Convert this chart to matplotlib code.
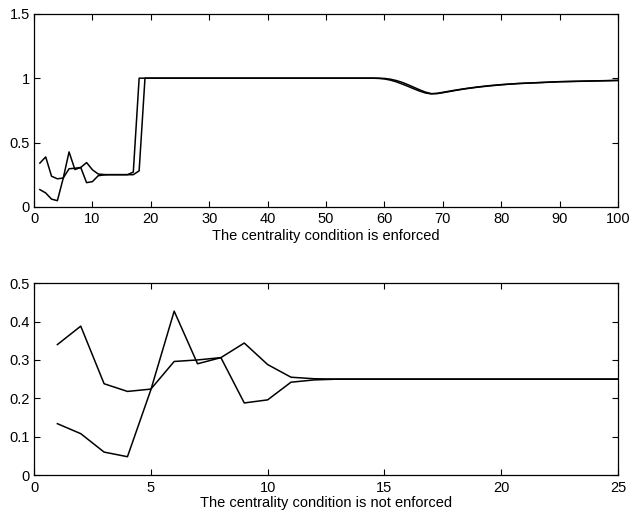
import numpy as np
import matplotlib.pyplot as plt

plt.rcParams['font.family'] = ['Liberation Sans', 'DejaVu Sans']

# top panel: iterations 1..100
x_top = np.arange(1, 101)
top_a = [0.340, 0.388, 0.238, 0.218, 0.224, 0.296, 0.300, 0.306, 0.188, 0.196,
         0.242, 0.248, 0.250, 0.250, 0.250, 0.250, 0.270, 1.000, 1.000, 1.000,
         1.000, 1.000, 1.000, 1.000, 1.000, 1.000, 1.000, 1.000, 1.000, 1.000,
         1.000, 1.000, 1.000, 1.000, 1.000, 1.000, 1.000, 1.000, 1.000, 1.000,
         1.000, 1.000, 1.000, 1.000, 1.000, 1.000, 1.000, 1.000, 1.000, 1.000,
         1.000, 1.000, 1.000, 1.000, 1.000, 1.000, 1.000, 1.000, 0.998, 0.994,
         0.985, 0.972, 0.955, 0.937, 0.918, 0.900, 0.885, 0.878, 0.882, 0.890,
         0.898, 0.906, 0.913, 0.920, 0.926, 0.932, 0.937, 0.942, 0.946, 0.950,
         0.953, 0.956, 0.959, 0.961, 0.963, 0.965, 0.967, 0.969, 0.971, 0.973,
         0.974, 0.975, 0.976, 0.977, 0.978, 0.979, 0.980, 0.981, 0.982, 0.983]
top_b = [0.134, 0.108, 0.060, 0.048, 0.222, 0.427, 0.290, 0.306, 0.344, 0.288,
         0.255, 0.251, 0.250, 0.250, 0.250, 0.250, 0.250, 0.280, 1.000, 1.000,
         1.000, 1.000, 1.000, 1.000, 1.000, 1.000, 1.000, 1.000, 1.000, 1.000,
         1.000, 1.000, 1.000, 1.000, 1.000, 1.000, 1.000, 1.000, 1.000, 1.000,
         1.000, 1.000, 1.000, 1.000, 1.000, 1.000, 1.000, 1.000, 1.000, 1.000,
         1.000, 1.000, 1.000, 1.000, 1.000, 1.000, 1.000, 1.000, 1.000, 0.998,
         0.992, 0.982, 0.968, 0.950, 0.930, 0.910, 0.892, 0.880, 0.880, 0.887,
         0.895, 0.903, 0.911, 0.918, 0.924, 0.930, 0.935, 0.940, 0.944, 0.948,
         0.952, 0.955, 0.958, 0.960, 0.962, 0.964, 0.966, 0.968, 0.970, 0.972,
         0.973, 0.974, 0.975, 0.976, 0.977, 0.978, 0.979, 0.980, 0.981, 0.982]

# bottom panel: iterations 1..25
x_bot = np.arange(1, 26)
bot_a = [0.340, 0.388, 0.238, 0.218, 0.224, 0.296, 0.300, 0.306, 0.188, 0.196,
         0.242, 0.248, 0.250, 0.250, 0.250, 0.250, 0.250, 0.250, 0.250, 0.250,
         0.250, 0.250, 0.250, 0.250, 0.250]
bot_b = [0.134, 0.108, 0.060, 0.048, 0.222, 0.427, 0.290, 0.306, 0.344, 0.288,
         0.255, 0.251, 0.250, 0.250, 0.250, 0.250, 0.250, 0.250, 0.250, 0.250,
         0.250, 0.250, 0.250, 0.250, 0.250]

fig = plt.figure(figsize=(6.3, 5.12), dpi=100)
ax1 = fig.add_axes([0.054, 0.596, 0.927, 0.377])
ax2 = fig.add_axes([0.054, 0.072, 0.927, 0.375])

ax1.plot(x_top, top_a, c='k', lw=1.1)
ax1.plot(x_top, top_b, c='k', lw=1.1)
ax1.set_xlim(0, 100)
ax1.set_ylim(0, 1.5)
ax1.set_xticks(np.arange(0, 101, 10))
ax1.set_yticks([0, 0.5, 1, 1.5])
ax1.set_yticklabels(['0', '0.5', '1', '1.5'])
ax1.set_xlabel('The centrality condition is enforced', labelpad=2)

ax2.plot(x_bot, bot_a, c='k', lw=1.1)
ax2.plot(x_bot, bot_b, c='k', lw=1.1)
ax2.set_xlim(0, 25)
ax2.set_ylim(0, 0.5)
ax2.set_xticks([0, 5, 10, 15, 20, 25])
ax2.set_yticks([0, 0.1, 0.2, 0.3, 0.4, 0.5])
ax2.set_yticklabels(['0', '0.1', '0.2', '0.3', '0.4', '0.5'])
ax2.set_xlabel('The centrality condition is not enforced', labelpad=1)

for ax in (ax1, ax2):
    ax.tick_params(direction='in', top=True, right=True, length=4,
                   width=0.8, labelsize=10.5, pad=3)
    ax.tick_params(axis='x', pad=4)
    ax.xaxis.label.set_size(10.5)
    for s in ax.spines.values():
        s.set_linewidth(0.9)

plt.savefig('out.png', dpi=100)
